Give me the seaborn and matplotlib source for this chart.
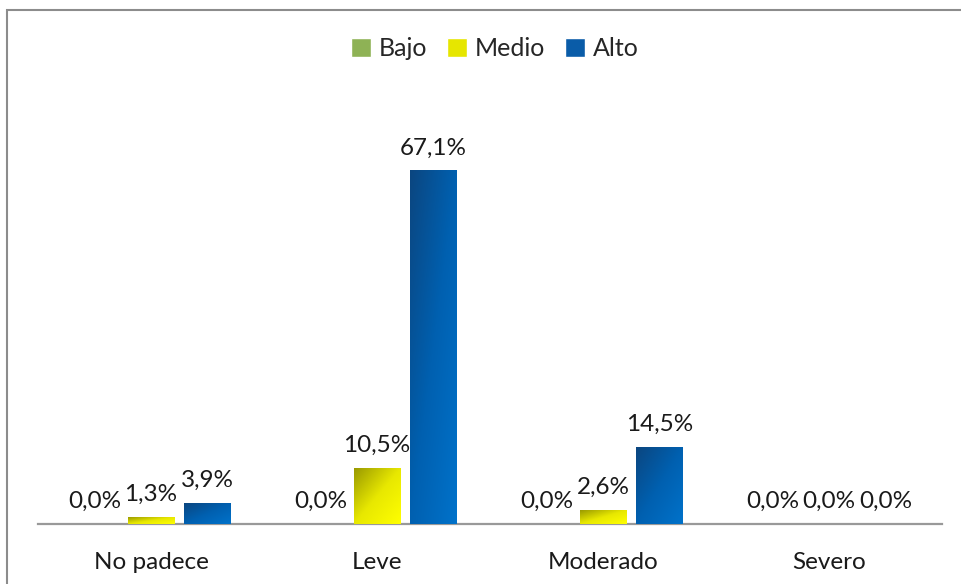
import numpy as np
import pandas as pd
import matplotlib
matplotlib.use("Agg")
import matplotlib.pyplot as plt
import seaborn as sns
from matplotlib.colors import LinearSegmentedColormap
from matplotlib.patches import Rectangle

# datos del gráfico
categorias = ["No padece", "Leve", "Moderado", "Severo"]
niveles = ["Bajo", "Medio", "Alto"]
bajo = [0.0, 0.0, 0.0, 0.0]
medio = [1.3, 10.5, 2.6, 0.0]
alto = [3.9, 67.1, 14.5, 0.0]

df = pd.DataFrame({
    "categoria": categorias * 3,
    "nivel": [n for n in niveles for _ in categorias],
    "valor": bajo + medio + alto,
})

colores = {"Bajo": "#8EB255", "Medio": "#E6E600", "Alto": "#0A5CA8"}
# degradados tipo Excel (oscuro arriba-izquierda -> claro abajo-derecha)
degradados = {
    "Bajo": None,
    "Medio": LinearSegmentedColormap.from_list("medio", ["#9A9A00", "#E8E800", "#FFFF00"]),
    "Alto": LinearSegmentedColormap.from_list("alto", ["#0B4680", "#0060B0", "#0072CA"]),
}

sns.set_style("white")
plt.rcParams["font.family"] = ["Lato", "DejaVu Sans"]

fig = plt.figure(figsize=(9.61, 5.84), dpi=100)
ax = fig.add_axes([38 / 961, 1 - 524 / 584, (942 - 38) / 961, (524 - 103) / 584])

sns.barplot(data=df, x="categoria", y="valor", hue="nivel", hue_order=niveles,
            order=categorias, palette=colores, width=0.75, gap=0.18,
            errorbar=None, ax=ax, saturation=1)

# degradado en cada barra
u, v = np.meshgrid(np.linspace(0, 1, 60), np.linspace(0, 1, 60))
grad = (u + v) / 2
for nivel, cont in zip(niveles, ax.containers):
    cmap = degradados[nivel]
    if cmap is None:
        continue
    for bar in cont:
        if bar.get_height() <= 0:
            continue
        x0 = bar.get_x()
        w = bar.get_width()
        h = bar.get_height()
        ax.imshow(grad, cmap=cmap, extent=(x0, x0 + w, 0, h), origin="upper",
                  aspect="auto", zorder=3, interpolation="bilinear")

ax.set_ylim(0, 80)
ax.set_xlim(-0.5, len(categorias) - 0.5)

for cont in ax.containers:
    etiquetas = [f"{b.get_height():.1f}%".replace(".", ",") for b in cont]
    ax.bar_label(cont, labels=etiquetas, padding=9, fontsize=17.5, color="#1a1a1a", zorder=5)

sns.despine(ax=ax, left=True, top=True, right=True)
ax.spines["bottom"].set_color("#999999")
ax.spines["bottom"].set_linewidth(1.6)
ax.set_yticks([])
ax.set_xlabel("")
ax.set_ylabel("")
ax.tick_params(axis="x", length=0, pad=20, labelsize=17.5, labelcolor="#1a1a1a")

leg = ax.legend(loc="center", bbox_to_anchor=(495 / 961, 1 - 49 / 584),
                bbox_transform=fig.transFigure, ncol=3, frameon=False,
                fontsize=18, handlelength=0.8, handleheight=0.8,
                handletextpad=0.3, columnspacing=0.8)

# marco exterior del gráfico
fig.patches.append(Rectangle((7 / 961, -0.05), 1.1, 1 - 10 / 584 + 0.05,
                             transform=fig.transFigure, fill=False,
                             edgecolor="#8C8C8C", linewidth=1.5))

fig.savefig("out.png", dpi=100)
